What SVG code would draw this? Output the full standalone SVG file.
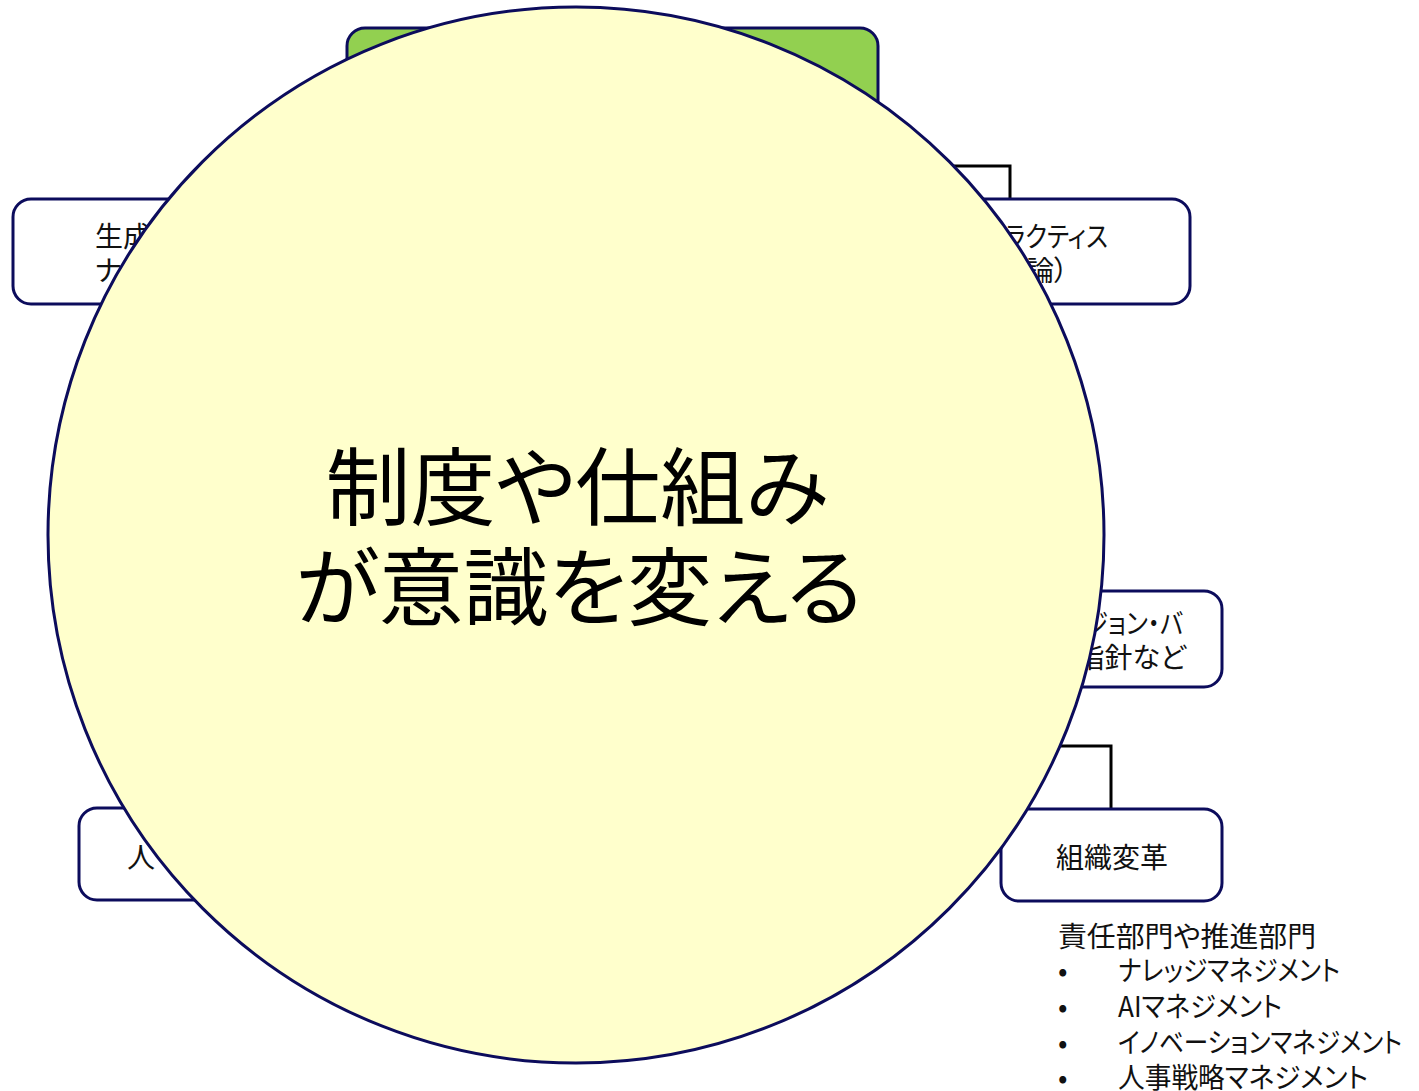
<svg xmlns="http://www.w3.org/2000/svg" width="1419" height="1091" viewBox="0 0 1419 1091">
<style>
.box{fill:#fff;stroke:#0c0c5c;stroke-width:3}
.t{font-family:"Noto Sans CJK JP","Liberation Sans",sans-serif;font-size:28px;fill:#111;font-feature-settings:"palt"}
.big{font-family:"Noto Sans CJK JP","Liberation Sans",sans-serif;font-size:85px;fill:#000;text-anchor:middle;font-feature-settings:"palt"}
.conn{fill:none;stroke:#000;stroke-width:3}
</style>
<rect width="1419" height="1091" fill="#fff"/>
<g id="connectors">
<path class="conn" d="M930 166 H1010 V199"/>
<path class="conn" d="M1030 746 H1111 V809"/>
</g>
<g id="top-green">
<rect x="347" y="28" width="531" height="200" rx="18" fill="#92D050" stroke="#0c0c5c" stroke-width="3"/>
</g>
<g id="node-left-top">
<rect class="box" x="13" y="199" width="300" height="105" rx="18"/>
<text class="t" x="95" y="247">生成</text>
<text class="t" x="95" y="281">ナ</text>
</g>
<g id="node-right-top">
<rect class="box" x="870" y="199" width="320" height="105" rx="18"/>
<text class="t" x="982" y="247" textLength="126" lengthAdjust="spacingAndGlyphs">プラクティス</text>
<text class="t" x="1068" y="281" text-anchor="end">論）</text>
</g>
<g id="node-right-mid">
<rect class="box" x="950" y="591" width="272" height="96" rx="18"/>
<text class="t" x="1084" y="634" textLength="99" lengthAdjust="spacingAndGlyphs">ジョン・バ</text>
<text class="t" x="1186" y="668" text-anchor="end">指針など</text>
</g>
<g id="node-left-bottom">
<rect class="box" x="79" y="808" width="260" height="92" rx="18"/>
<text class="t" x="127" y="868">人</text>
</g>
<g id="node-org">
<rect class="box" x="1001" y="809" width="221" height="92" rx="18"/>
<text class="t" x="1112" y="868" text-anchor="middle">組織変革</text>
</g>
<g id="list">
<text class="t" x="1058" y="947" textLength="258" lengthAdjust="spacingAndGlyphs">責任部門や推進部門</text>
<text class="t" x="1058" y="981">•</text>
<text class="t" x="1118" y="981" textLength="222" lengthAdjust="spacingAndGlyphs">ナレッジマネジメント</text>
<text class="t" x="1058" y="1017">•</text>
<text class="t" x="1118" y="1017" textLength="164" lengthAdjust="spacingAndGlyphs">AIマネジメント</text>
<text class="t" x="1058" y="1053">•</text>
<text class="t" x="1118" y="1053" textLength="284" lengthAdjust="spacingAndGlyphs">イノベーションマネジメント</text>
<text class="t" x="1058" y="1088">•</text>
<text class="t" x="1118" y="1088" textLength="250" lengthAdjust="spacingAndGlyphs">人事戦略マネジメント</text>
</g>
<g id="center-circle">
<circle cx="576" cy="535" r="528" fill="#FFFFCC" stroke="#0c0c5c" stroke-width="3"/>
<text class="big" x="577" y="519">制度や仕組み</text>
<text class="big" x="579" y="619">が意識を変える</text>
</g>
</svg>
